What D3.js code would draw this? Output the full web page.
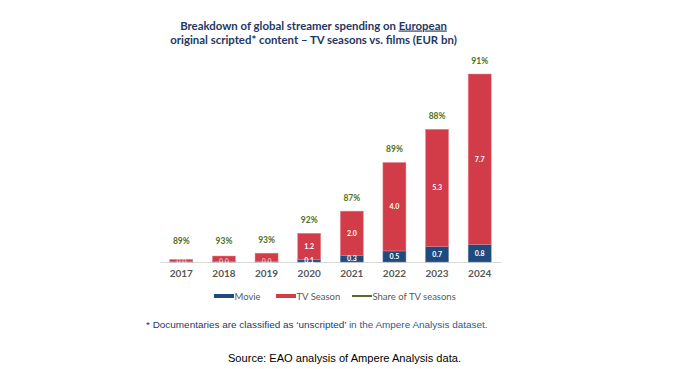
<!DOCTYPE html>
<html><head><meta charset="utf-8">
<script src="https://cdn.jsdelivr.net/npm/d3@7"></script>
<style>body{margin:0;background:#fff;}svg{display:block;}</style>
</head><body><div id="c"></div>
<script>
const years = ["2017","2018","2019","2020","2021","2022","2023","2024"];
const movie = [0.01,0.02,0.03,0.1,0.3,0.5,0.7,0.8];
const tvSeason = [0.11,0.25,0.37,1.2,2.0,4.0,5.3,7.7];
const movieLabels = ["0.0","0.0","0.0","0.1","0.3","0.5","0.7","0.8"];
const tvLabels = ["","","","1.2","2.0","4.0","5.3","7.7"];
const shareTV = ["89%","93%","93%","92%","87%","89%","88%","91%"];

const W=688,H=369;
const svg=d3.select("#c").append("svg").attr("width",W).attr("height",H);
const colMovie="#1f4a7e", colTV="#d13c48", colShare="#4f6f23";
const x=d3.scaleBand().domain(years).range([160,501]).paddingInner(0.46).paddingOuter(0.23);
const y=d3.scaleLinear().domain([0,8.5]).range([262,74]);

// title
const tx=313.5;
const t=svg.append("text").attr("x",tx).attr("text-anchor","middle")
  .attr("font-family","Lato, 'Open Sans', sans-serif").attr("font-weight","bold")
  .attr("font-size",11.4).attr("fill","#1f3864");
t.append("tspan").attr("x",tx).attr("y",29.5).text("Breakdown of global streamer spending on ");
t.append("tspan").attr("text-decoration","underline").text("European");
t.append("tspan").attr("x",tx).attr("y",44).text("original scripted* content \u2013 TV seasons vs. films (EUR bn)");

// axis baseline
const ax=d3.axisBottom(x).tickSize(0).tickPadding(8);
const g=svg.append("g").attr("transform","translate(0,262)").call(ax);
g.select(".domain").attr("stroke","#d9d9d9").attr("stroke-width",1);
g.selectAll("text").attr("font-family","Lato, 'Open Sans', sans-serif").attr("font-weight","bold")
  .attr("font-size",10).attr("fill","#595959");

const data=years.map((yr,i)=>({yr,m:movie[i],tv:tvSeason[i],ml:movieLabels[i],tl:tvLabels[i],s:shareTV[i]}));
const bars=svg.append("g");
bars.selectAll(".m").data(data).join("rect")
  .attr("x",d=>x(d.yr)).attr("width",x.bandwidth())
  .attr("y",d=>y(d.m)).attr("height",d=>y(0)-y(d.m))
  .attr("fill",colMovie).attr("stroke","#6b86ad").attr("stroke-width",0.5);
bars.selectAll(".t").data(data).join("rect")
  .attr("x",d=>x(d.yr)).attr("width",x.bandwidth())
  .attr("y",d=>y(d.m+d.tv)).attr("height",d=>y(d.m)-y(d.m+d.tv))
  .attr("fill",colTV).attr("stroke","#e58a92").attr("stroke-width",0.5);

const lf="Lato, 'Open Sans', sans-serif";
svg.selectAll(".ml").data(data).join("text")
  .attr("x",d=>x(d.yr)+x.bandwidth()/2)
  .attr("y",d=>Math.min((y(0)+y(d.m))/2,y(0)-1)+2.5)
  .attr("text-anchor","middle").attr("font-family",lf).attr("font-weight","bold")
  .attr("font-size",7).attr("fill","#ffffff").attr("fill-opacity",d=>d.m<0.1?0.6:1).text(d=>d.ml);
svg.selectAll(".tl").data(data).join("text")
  .attr("x",d=>x(d.yr)+x.bandwidth()/2)
  .attr("y",d=>(y(d.m)+y(d.m+d.tv))/2+2.5)
  .attr("text-anchor","middle").attr("font-family",lf).attr("font-weight","bold")
  .attr("font-size",7).attr("fill","#ffffff").text(d=>d.tl);
svg.selectAll(".sl").data(data).join("text")
  .attr("x",d=>x(d.yr)+x.bandwidth()/2)
  .attr("y",d=>Math.min(y(d.m+d.tv)-10,244))
  .attr("text-anchor","middle").attr("font-family",lf).attr("font-weight","bold")
  .attr("font-size",8.5).attr("fill",colShare).text(d=>d.s);

// legend
const leg=[{n:"Movie",c:colMovie,x:214,h:4},{n:"TV Season",c:colTV,x:276,h:4},{n:"Share of TV seasons",c:colShare,x:352,h:2}];
const lg=svg.append("g");
leg.forEach(d=>{
  lg.append("rect").attr("x",d.x).attr("y",296-d.h/2).attr("width",20).attr("height",d.h).attr("fill",d.c);
  lg.append("text").attr("x",d.x+20.5).attr("y",299.5).attr("font-family",lf).attr("font-size",9.5)
    .attr("fill","#595959").text(d.n);
});

// footnote
const fn=svg.append("text").attr("x",146).attr("y",328).attr("font-family","'Liberation Sans', Arial, sans-serif")
  .attr("font-size",9.95).attr("fill","#1f3864");
fn.append("tspan").text("* Documentaries are classified as \u2018unscripted\u2019 ");
fn.append("tspan").attr("fill","#2e5c8a").text("in the Ampere Analysis dataset.");

svg.append("text").attr("x",344.5).attr("y",362).attr("text-anchor","middle")
  .attr("font-family","'Liberation Sans', Arial, sans-serif").attr("font-size",11.1).attr("fill","#000")
  .text("Source: EAO analysis of Ampere Analysis data.");
</script></body></html>
